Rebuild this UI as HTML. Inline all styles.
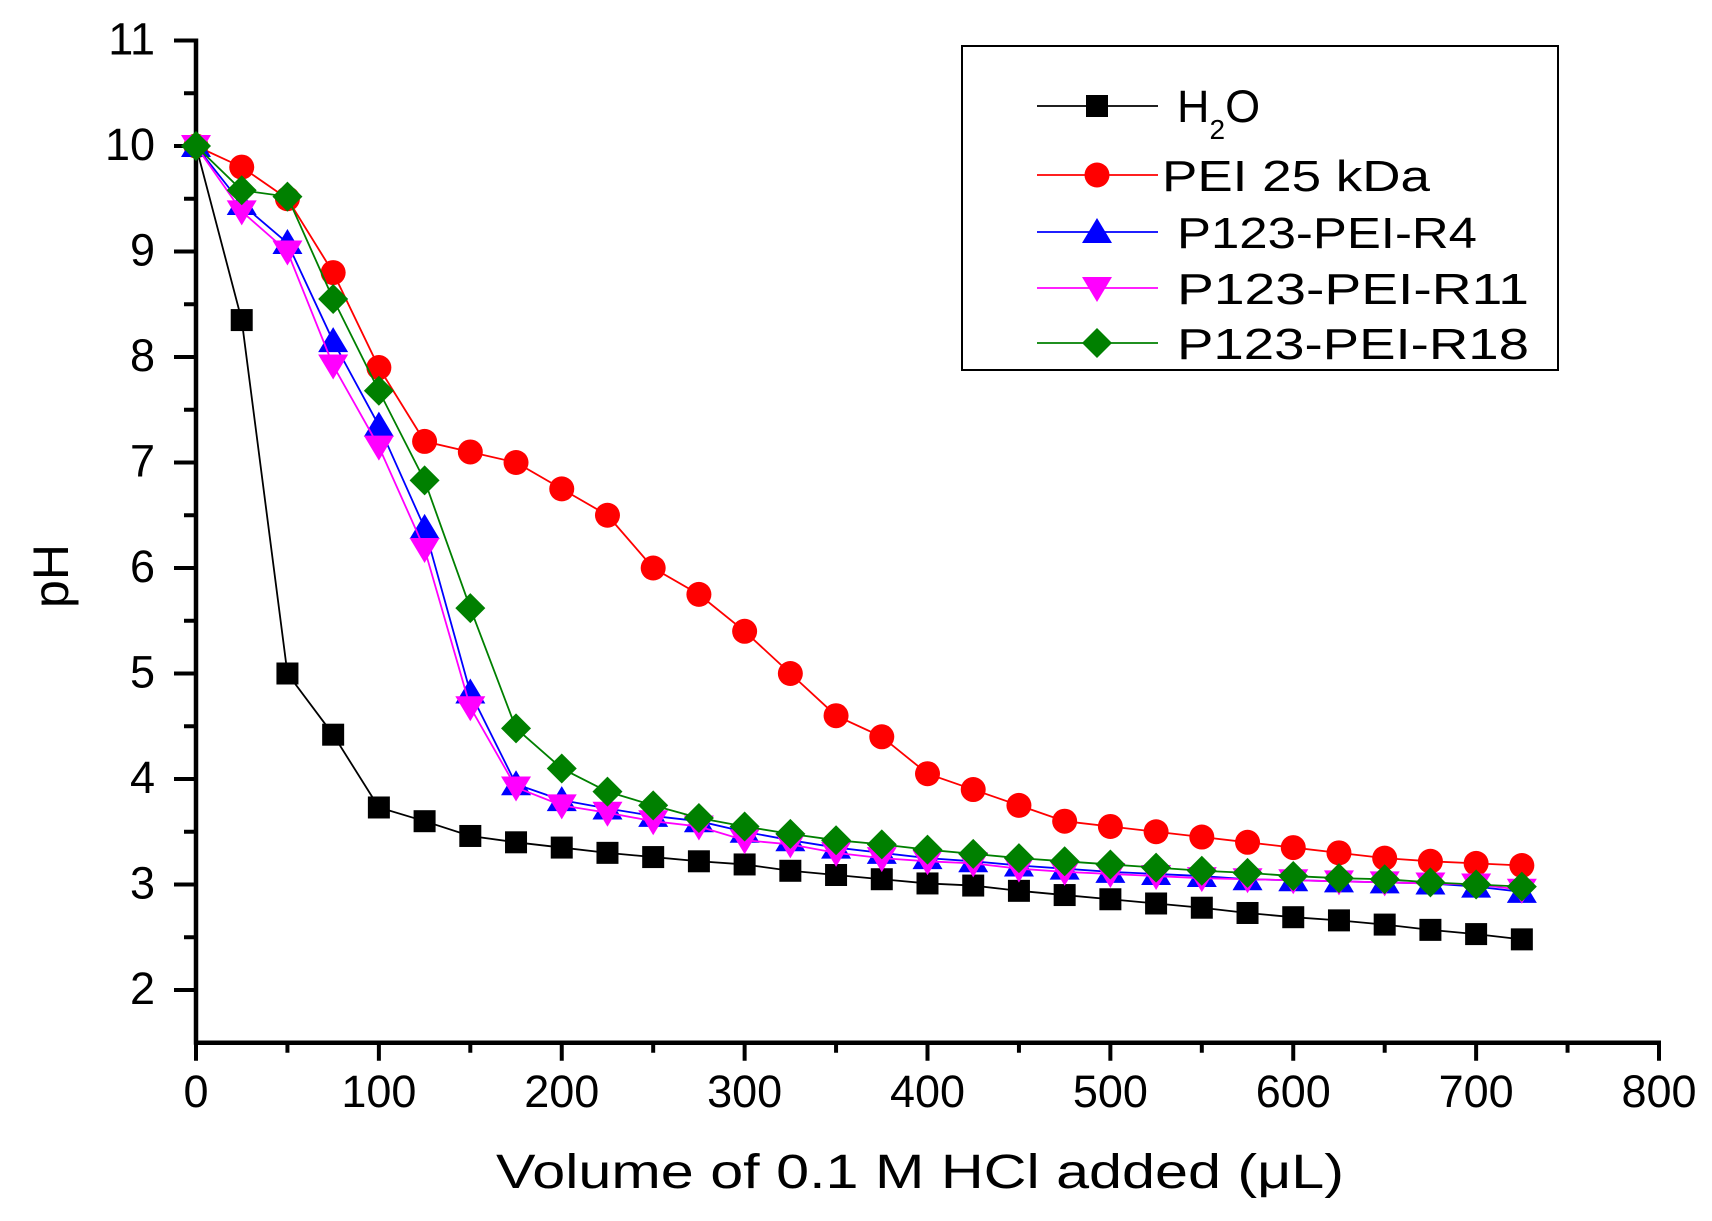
<!DOCTYPE html>
<html><head><meta charset="utf-8"><style>
html,body{margin:0;padding:0;background:#fff;}
svg{display:block;font-family:"Liberation Sans",Arial,sans-serif;}
</style></head><body>
<svg id="chart" width="1712" height="1221" viewBox="0 0 1712 1221" xmlns="http://www.w3.org/2000/svg">
<g id="grid"></g>
<g id="series"></g>
<g id="legend"></g>
</svg>
<script>
const volumes = [0,25,50,75,100,125,150,175,200,225,250,275,300,325,350,375,400,425,450,475,500,525,550,575,600,625,650,675,700,725];
const phH2O = [10,8.35,5.0,4.42,3.73,3.6,3.46,3.4,3.35,3.3,3.26,3.22,3.19,3.13,3.09,3.05,3.01,2.99,2.94,2.9,2.86,2.82,2.78,2.73,2.69,2.66,2.62,2.57,2.53,2.48];
const phPEI = [10,9.8,9.5,8.8,7.9,7.2,7.1,7.0,6.75,6.5,6.0,5.75,5.4,5.0,4.6,4.4,4.05,3.9,3.75,3.6,3.55,3.5,3.45,3.4,3.35,3.3,3.25,3.22,3.2,3.18];
const phR4 = [10,9.45,9.08,8.15,7.35,6.38,4.82,3.95,3.8,3.72,3.65,3.6,3.5,3.42,3.35,3.3,3.25,3.22,3.18,3.15,3.12,3.1,3.08,3.05,3.04,3.03,3.02,3.01,2.98,2.93];
const phR11 = [10,9.38,9.0,7.92,7.15,6.18,4.68,3.92,3.75,3.68,3.6,3.55,3.42,3.38,3.3,3.25,3.22,3.2,3.15,3.12,3.1,3.08,3.06,3.05,3.04,3.03,3.02,3.01,3.0,2.95];
const phR18 = [10,9.58,9.52,8.55,7.68,6.83,5.62,4.48,4.1,3.88,3.75,3.63,3.55,3.48,3.42,3.38,3.33,3.29,3.25,3.22,3.19,3.16,3.13,3.11,3.08,3.06,3.05,3.02,3.0,2.98];
const seriesNames = ["H2O","PEI 25 kDa","P123-PEI-R4","P123-PEI-R11","P123-PEI-R18"];
const xTicks = [0,100,200,300,400,500,600,700,800];
const yTicks = [2,3,4,5,6,7,8,9,10,11];

const NS="http://www.w3.org/2000/svg";
const X0=196, XW=1463/800;
function xs(v){return X0+v*XW;}
function ys(v){return 146-(v-10)*105.5;}
function mk(tag,attrs,parent){const e=document.createElementNS(NS,tag);for(const k in attrs)e.setAttribute(k,attrs[k]);parent.appendChild(e);return e;}
const grid=document.getElementById('grid');
const AX_Y=ys(1.5);

let yl=mk('line',{x1:X0,y1:ys(11)-2,x2:X0,y2:AX_Y+2,stroke:'#000','stroke-width':4.5},grid);


let xl=mk('line',{x1:X0-2,y1:AX_Y,x2:xs(800)+2,y2:AX_Y,stroke:'#000','stroke-width':4.5},grid);


for(let v=0;v<=800;v+=50){
  const major=v%100===0;
  const t=mk('line',{x1:xs(v),y1:AX_Y,x2:xs(v),y2:AX_Y+(major?18:10),stroke:'#000','stroke-width':4},grid);
  
  
}
xTicks.forEach(v=>{
  const t=mk('text',{x:xs(v),y:1107,'font-size':45,'text-anchor':'middle',fill:'#000'},grid);
  t.textContent=v;
  
  
});
for(let v=2;v<=11;v+=0.5){
  const major=Number.isInteger(v);
  const t=mk('line',{x1:X0-(major?22:12),y1:ys(v),x2:X0,y2:ys(v),stroke:'#000','stroke-width':4},grid);
  
  
}
yTicks.forEach(v=>{
  const t=mk('text',{x:155,y:ys(v)+14,'font-size':45,'text-anchor':'end',fill:'#000'},grid);
  t.textContent=v;
  
  
});
let xt=mk('text',{x:496,y:1188,'font-size':48,textLength:848,lengthAdjust:'spacingAndGlyphs',fill:'#000'},grid);
xt.textContent='Volume of 0.1 M HCl added (\u03bcL)';


let yt=mk('text',{x:0,y:0,'font-size':50,'text-anchor':'middle',fill:'#000',transform:'translate(68,576) rotate(-90)'},grid);
yt.textContent='pH';



function marker(type,cx,cy,color,parent){
  if(type==='square') return mk('rect',{x:cx-11,y:cy-11,width:22,height:22,fill:color},parent);
  if(type==='circle') return mk('circle',{cx:cx,cy:cy,r:12.5,fill:color},parent);
  if(type==='up') return mk('polygon',{points:`${cx},${cy-14} ${cx+15},${cy+11} ${cx-15},${cy+11}`,fill:color},parent);
  if(type==='down') return mk('polygon',{points:`${cx},${cy+14} ${cx+15},${cy-11} ${cx-15},${cy-11}`,fill:color},parent);
  return mk('polygon',{points:`${cx},${cy-15} ${cx+15},${cy} ${cx},${cy+15} ${cx-15},${cy}`,fill:color},parent);
}
const seriesData=[phH2O,phPEI,phR4,phR11,phR18];
const colors=['#000','#ff0000','#0000ff','#ff00ff','#008000'];
const types=['square','circle','up','down','diamond'];
const keys=['h2o','pei-25kda','p123-pei-r4','p123-pei-r11','p123-pei-r18'];
const sg=document.getElementById('series');
seriesData.forEach((d,i)=>{
  const g=mk('g',{},sg);
  
  
  const pts=d.map((v,j)=>xs(volumes[j])+','+ys(v)).join(' ');
  const pl=mk('polyline',{points:pts,fill:'none',stroke:colors[i],'stroke-width':1.8},g);
  
  
  d.forEach((v,j)=>{
    const m=marker(types[i],xs(volumes[j]),ys(v),colors[i],g);
    
    
  });
});

const lg=document.getElementById('legend');
mk('rect',{x:962,y:46,width:596,height:324,fill:'#fff',stroke:'#000','stroke-width':2},lg);
const ly=[106,175,232,288,343];
seriesNames.forEach((n,i)=>{
  const g=mk('g',{},lg);
  
  
  mk('line',{x1:1037,y1:ly[i],x2:1158,y2:ly[i],stroke:colors[i],'stroke-width':1.8},g);
  marker(types[i],1097,ly[i],colors[i],g);
  if(i===0){
    const t=mk('text',{x:1177,y:ly[i]+16,'font-size':45,fill:'#000'},g);
    t.innerHTML='H<tspan font-size="28" dy="17">2</tspan><tspan dy="-17">O</tspan>';
  } else {
    const widths=[0,268,300,352,352];
    const t=mk('text',{x:i===1?1162:1177,y:ly[i]+16,'font-size':44,textLength:widths[i],lengthAdjust:'spacingAndGlyphs',fill:'#000'},g);
    t.textContent=n;
  }
});
</script>
</body></html>
